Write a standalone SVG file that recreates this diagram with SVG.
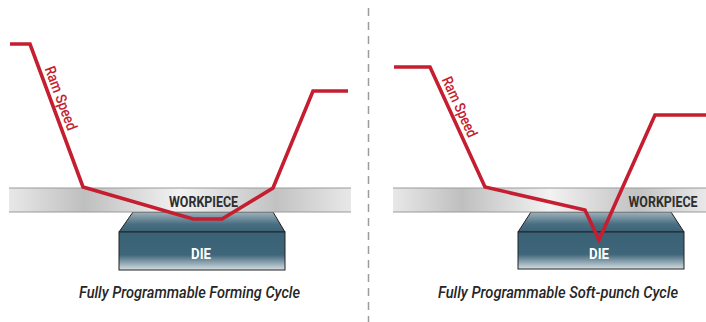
<svg xmlns="http://www.w3.org/2000/svg" width="706" height="322" viewBox="0 0 706 322">
<defs>
<linearGradient id="wp" x1="0" y1="0" x2="1" y2="0">
<stop offset="0" stop-color="#e8e8e8"/>
<stop offset="0.22" stop-color="#bfbfbf"/>
<stop offset="0.5" stop-color="#f2f2f2"/>
<stop offset="0.78" stop-color="#c2c2c2"/>
<stop offset="1" stop-color="#e8e8e8"/>
</linearGradient>
<linearGradient id="dtop" x1="0" y1="0" x2="0" y2="1">
<stop offset="0" stop-color="#9fb3be"/>
<stop offset="0.6" stop-color="#4a6f82"/>
<stop offset="1" stop-color="#3a6277"/>
</linearGradient>
<linearGradient id="dbody" x1="0" y1="0" x2="0" y2="1">
<stop offset="0" stop-color="#3a6277"/>
<stop offset="0.6" stop-color="#3e6579"/>
<stop offset="1" stop-color="#d5dee3"/>
</linearGradient>
<style>
.wp{fill:url(#wp);}
.wpb{stroke:#9a9a9a;stroke-width:1.2;}
.dt{fill:url(#dtop);stroke:#222;stroke-width:1;}
.db{fill:url(#dbody);stroke:#222;stroke-width:1;}
.lbl{font-family:Roboto,"Liberation Sans",sans-serif;font-weight:bold;font-size:15px;text-anchor:middle;}
.ram{fill:none;stroke:#c41e30;stroke-width:3.6;stroke-linejoin:miter;}
.rs{font-family:Roboto,"Liberation Sans",sans-serif;font-size:15px;font-weight:500;fill:#c41e30;}
.cap{font-family:Roboto,"Liberation Sans",sans-serif;font-style:italic;font-weight:500;font-size:16px;fill:#262626;}
</style>
</defs>

<g id="divider">
<line x1="368.5" y1="8" x2="368.5" y2="322" stroke="#9c9c9c" stroke-width="1.5" stroke-dasharray="8 6"/>
</g>

<g id="left-die">
<polygon class="dt" points="133,212 273,212 285,232 119,232"/>
<rect class="db" x="119" y="232" width="166" height="38"/>
<text class="lbl" x="201" y="258.5" fill="#ffffff" textLength="20" lengthAdjust="spacingAndGlyphs">DIE</text>
</g>
<g id="left-workpiece">
<rect class="wp" x="9" y="188" width="342" height="24"/>
<line class="wpb" x1="9" y1="188" x2="351" y2="188"/>
<line class="wpb" x1="9" y1="212" x2="351" y2="212"/>
</g>

<g id="right-die">
<polygon class="dt" points="531,212 671,212 684,232 518,232"/>
<rect class="db" x="518" y="232" width="166" height="37"/>
<text class="lbl" x="599" y="258.5" fill="#ffffff" textLength="20" lengthAdjust="spacingAndGlyphs">DIE</text>
</g>
<g id="right-workpiece">
<rect class="wp" x="393" y="188" width="313" height="24"/>
<line class="wpb" x1="393" y1="188" x2="706" y2="188"/>
<line class="wpb" x1="393" y1="212" x2="706" y2="212"/>
</g>

<g id="connectors">
<polyline class="ram" points="10,44 30,44 83,187 193,219 222,219 273,188 313,91 348,91"/>
<polyline class="ram" points="394,67 430,67 485,187 585,210 599,240 655,115 706,115"/>
</g>

<g id="left-wp-label">
<text class="lbl" x="203.5" y="206.5" fill="#2e2e2e" textLength="69" lengthAdjust="spacingAndGlyphs">WORKPIECE</text>
</g>
<g id="right-wp-label">
<text class="lbl" x="663" y="206.5" fill="#2e2e2e" textLength="69" lengthAdjust="spacingAndGlyphs">WORKPIECE</text>
</g>

<g id="left-ram-label">
<text class="rs" transform="translate(44.5,68.5) rotate(69.7)" textLength="67" lengthAdjust="spacingAndGlyphs">Ram Speed</text>
</g>
<g id="right-ram-label">
<text class="rs" transform="translate(441.5,79.5) rotate(65.4)" textLength="65" lengthAdjust="spacingAndGlyphs">Ram Speed</text>
</g>

<g id="left-caption">
<text class="cap" x="79" y="298" textLength="221" lengthAdjust="spacingAndGlyphs">Fully Programmable Forming Cycle</text>
</g>
<g id="right-caption">
<text class="cap" x="438" y="298" textLength="240" lengthAdjust="spacingAndGlyphs">Fully Programmable Soft-punch Cycle</text>
</g>
</svg>
